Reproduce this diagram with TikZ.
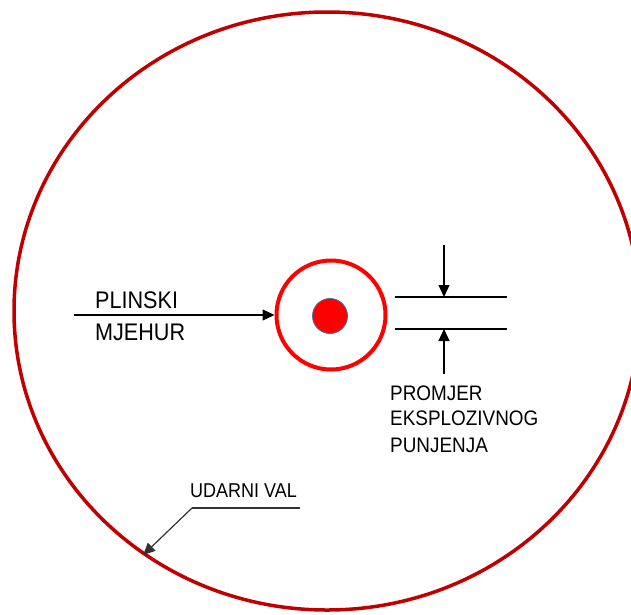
\documentclass[tikz,border=0pt]{standalone}
\usepackage{fontspec}
\setmainfont{Liberation Sans}
\newfontfamily\narrowsans[FakeStretch=0.9]{Liberation Sans}
\usetikzlibrary{arrows.meta,positioning,shapes.geometric}
\definecolor{wavered}{RGB}{192,0,0}
\definecolor{chargeblue}{RGB}{65,113,156}
\definecolor{leadgray}{RGB}{50,50,50}

\begin{document}
\begin{tikzpicture}[x=1pt,y=-1pt,>={Triangle[length=12pt,width=11pt]},
  txt/.style={inner sep=0pt,anchor=base west,font=\narrowsans\fontsize{21}{21}\selectfont},
  pointer/.style={line width=1.2pt,->}]
  \useasboundingbox (0,0) rectangle (631,614);
  % shock wave and gas bubble
  \node[ellipse,draw=wavered,line width=3.5pt,minimum width=626pt,minimum height=598pt,inner sep=0pt] (wave) at (327,311) {};
  \node[circle,draw=red,line width=4pt,minimum size=109pt,inner sep=0pt] (bubble) at (331,315) {};
  \node[circle,fill=red,draw=chargeblue,line width=0.8pt,minimum size=35pt,inner sep=0pt] (charge) at (330,316) {};
  % bubble label
  \node[txt,font=\narrowsans\fontsize{24}{24}\selectfont] (plinski) at (95,308) {PLINSKI};
  \node[txt,font=\narrowsans\fontsize{24}{24}\selectfont] (mjehur) at (95,340) {MJEHUR};
  \coordinate (bstart) at (74,315);
  \draw[pointer] (bstart) -- (bubble.west);
  % charge diameter
  \coordinate (d1l) at (395,297);
  \coordinate (d1r) at (507,297);
  \coordinate (d2l) at (395,329);
  \coordinate (d2r) at (507,329);
  \draw[line width=1.2pt] (d1l) -- (d1r);
  \draw[line width=1.2pt] (d2l) -- (d2r);
  \coordinate (t1) at (444,245);
  \coordinate (h1) at (444,297);
  \coordinate (t2) at (444,374);
  \coordinate (h2) at (444,329);
  \draw[pointer] (t1) -- (h1);
  \draw[pointer] (t2) -- (h2);
  \node[txt] (promjer) at (390,400) {PROMJER};
  \node[txt] (eksplozivnog) at (390,425) {EKSPLOZIVNOG};
  \node[txt] (punjenja) at (390,452) {PUNJENJA};
  % shock wave label
  \node[txt,font=\narrowsans\fontsize{20}{20}\selectfont] (udarni) at (190,497) {UDARNI VAL};
  \coordinate (ul) at (192,508);
  \coordinate (ur) at (300,508);
  \draw[leadgray,line width=1.2pt] (ur) -- (ul);
  \draw[pointer,leadgray] (ul) -- (wave.233);
\end{tikzpicture}
\end{document}
